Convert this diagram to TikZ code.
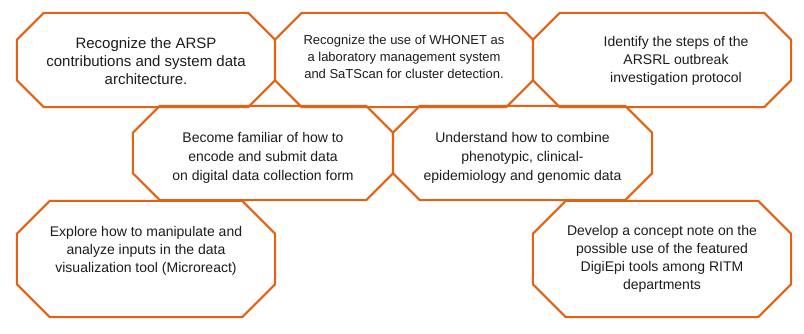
\documentclass[tikz,border=0pt]{standalone}
\usepackage{fontspec}
\setmainfont{Liberation Sans}
\definecolor{Rim}{RGB}{229,97,18}
\definecolor{Ink}{RGB}{28,28,28}
\tikzset{
  goal/.style={rectangle,inner sep=0pt,minimum width=258pt,minimum height=94pt},
  goalTall/.style={goal,minimum height=116pt},
  rim/.style={draw=Rim,line width=2pt,line join=miter},
  txt/.style={align=center,text=Ink,inner sep=0pt,font=\fontsize{14}{18}\selectfont}
}
% octagon round a named node, #2 = chamfer
\newcommand\octo[2]{%
  \draw[rim] ([xshift=#2]#1.north west) -- ([xshift=-#2]#1.north east) -- ([yshift=-#2]#1.north east)
    -- ([yshift=#2]#1.south east) -- ([xshift=-#2]#1.south east) -- ([xshift=#2]#1.south west)
    -- ([yshift=#2]#1.south west) -- ([yshift=-#2]#1.north west) -- cycle;}

\begin{document}
\begin{tikzpicture}[x=1pt,y=-1pt]
  \useasboundingbox (0,0) rectangle (804,333);
  % top row
  \node[goal] (arsp) at (146,60) {};
  \node[goal] (whonet) at (404,60) {};
  \node[goal] (outbreak) at (662,60) {};
  % middle row
  \node[goal,minimum width=260pt] (familiar) at (263,153) {};
  \node[goal,minimum width=259pt] (combine) at (522.5,153) {};
  % bottom row
  \node[goalTall] (explore) at (146,259) {};
  \node[goalTall] (concept) at (662,259) {};
  \octo{arsp}{27pt} \octo{whonet}{27pt} \octo{outbreak}{27pt}
  \octo{familiar}{27pt} \octo{combine}{27pt}
  \octo{explore}{33pt} \octo{concept}{33pt}
  \node[txt,font=\fontsize{15}{18}\selectfont] (arspText) at ([yshift=-1pt]arsp.center) {Recognize the ARSP\\contributions and system data\\architecture.};
  \node[txt,font=\fontsize{13}{17}\selectfont] (whonetText) at ([yshift=3pt]whonet.center) {Recognize the use of WHONET as\\a laboratory management system\\and SaTScan for cluster detection.};
  \node[txt] (outbreakText) at ([xshift=14pt,yshift=-1pt]outbreak.center) {Identify the steps of the\\ARSRL outbreak\\investigation protocol};
  \node[txt,font=\fontsize{14}{19}\selectfont] (familiarText) at ([yshift=-5pt]familiar.center) {Become familiar of how to\\encode and submit data\\on digital data collection form};
  \node[txt,font=\fontsize{14}{19}\selectfont] (combineText) at ([yshift=-5pt]combine.center) {Understand how to combine\\phenotypic, clinical-\\epidemiology and genomic data};
  \node[txt] (exploreText) at ([yshift=8pt]explore.center) {Explore how to manipulate and\\analyze inputs in the data\\visualization tool (Microreact)};
  \node[txt] (conceptText) at (concept.center) {Develop a concept note on the\\possible use of the featured\\DigiEpi tools among RITM\\departments};
\end{tikzpicture}
\end{document}
